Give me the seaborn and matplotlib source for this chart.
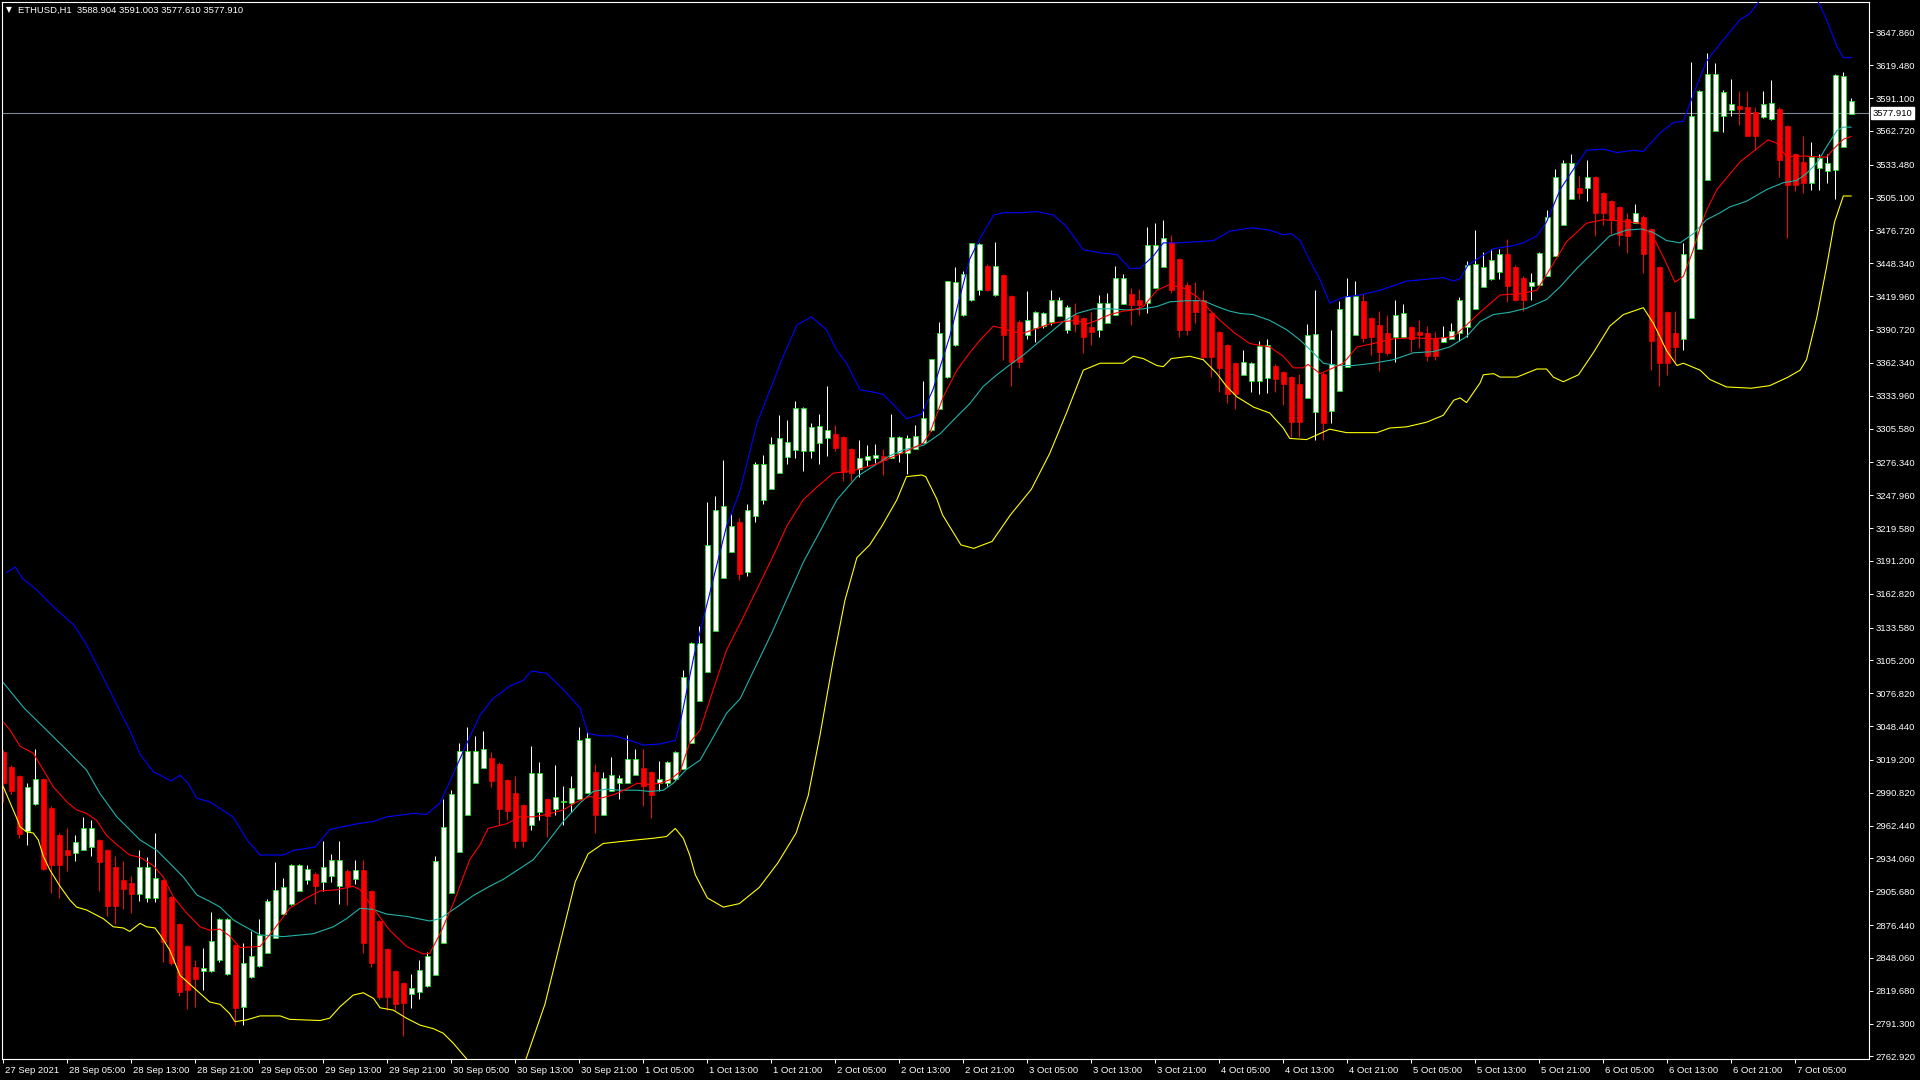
import numpy as np
import pandas as pd
import seaborn as sns
import matplotlib.pyplot as plt
import matplotlib.transforms as mtransforms

# candle data, one value per H1 bar (index 0 = 27 Sep 21:00)
opens = [
    3026, 3013, 3005, 2958, 2981, 3003, 2978, 2954, 2941, 2939, 2941, 2944, 2950, 2941, 2927, 2915,
    2913, 2903, 2900, 2900, 2915, 2901, 2877, 2858, 2840, 2837, 2837, 2846, 2834, 2859, 2806, 2832,
    2841, 2852, 2865, 2886, 2895, 2906, 2915, 2921, 2914, 2919, 2910, 2923, 2916, 2924, 2906, 2880,
    2856, 2837, 2826, 2817, 2819, 2824, 2833, 2861, 2904, 2940, 2972, 2999, 3012, 3021, 3016, 3002,
    2991, 2980, 2963, 2974, 2985, 2977, 2983, 2982, 2985, 2991, 3009, 2972, 2992, 2999, 2999, 3006,
    3012, 3009, 2999, 2999, 3003, 3011, 3034, 3070, 3095, 3131, 3176, 3199, 3225, 3182, 3230, 3244,
    3253, 3267, 3281, 3287, 3286, 3286, 3293, 3297, 3301, 3298, 3288, 3271, 3278, 3280, 3282, 3280,
    3284, 3284, 3288, 3293, 3304, 3322, 3350, 3378, 3404, 3417, 3425, 3446, 3421, 3438, 3420, 3398,
    3386, 3392, 3394, 3398, 3403, 3391, 3404, 3401, 3393, 3391, 3397, 3404, 3413, 3422, 3417, 3414,
    3427, 3445, 3467, 3452, 3430, 3417, 3417, 3405, 3389, 3378, 3362, 3352, 3347, 3347, 3349, 3360,
    3354, 3350, 3344, 3332, 3320, 3353, 3321, 3338, 3359, 3386, 3416, 3401, 3395, 3388, 3385, 3385,
    3393, 3389, 3388, 3384, 3380, 3383, 3388, 3393, 3409, 3428, 3435, 3441, 3456, 3445, 3436, 3429,
    3430, 3437, 3455, 3481, 3504, 3513, 3513, 3523, 3509, 3502, 3497, 3487, 3483, 3488, 3478, 3445,
    3406, 3388, 3383, 3401, 3461, 3520, 3563, 3576, 3581, 3584, 3583, 3579, 3575, 3573, 3582, 3567,
    3543, 3536, 3518, 3531, 3528, 3529, 3549, 3577.61,
]
highs = [
    3028, 3015, 3006, 2999, 3029, 3004, 2979, 2956, 2960, 2954, 2970, 2967, 2951, 2942, 2936, 2932,
    2919, 2941, 2935, 2956, 2916, 2902, 2878, 2859, 2846, 2857, 2888, 2883, 2883, 2860, 2861, 2871,
    2882, 2899, 2931, 2917, 2929, 2929, 2928, 2922, 2949, 2938, 2949, 2925, 2933, 2933, 2907, 2881,
    2857, 2838, 2827, 2834, 2846, 2853, 2936, 2985, 2993, 3034, 3048, 3040, 3044, 3026, 3017, 3003,
    3005, 2981, 3031, 3017, 2986, 3015, 2997, 3005, 3048, 3044, 3016, 3009, 3022, 3006, 3041, 3029,
    3029, 3010, 3018, 3018, 3027, 3097, 3121, 3135, 3242, 3247, 3278, 3232, 3228, 3240, 3277, 3283,
    3298, 3317, 3313, 3329, 3324, 3310, 3318, 3342, 3309, 3299, 3289, 3296, 3291, 3292, 3288, 3318,
    3299, 3300, 3309, 3347, 3366, 3398, 3433, 3445, 3442, 3466, 3466, 3448, 3467, 3439, 3421, 3399,
    3424, 3407, 3406, 3425, 3419, 3412, 3414, 3402, 3406, 3421, 3423, 3446, 3439, 3427, 3426, 3480,
    3483, 3486, 3473, 3453, 3432, 3432, 3425, 3406, 3390, 3379, 3363, 3373, 3363, 3381, 3383, 3361,
    3355, 3351, 3353, 3396, 3425, 3354, 3391, 3416, 3436, 3433, 3422, 3402, 3407, 3404, 3417, 3413,
    3394, 3399, 3394, 3389, 3394, 3397, 3419, 3450, 3477, 3458, 3461, 3461, 3469, 3447, 3437, 3440,
    3458, 3494, 3530, 3538, 3543, 3524, 3538, 3524, 3510, 3503, 3498, 3492, 3500, 3490, 3479, 3446,
    3407, 3407, 3466, 3622, 3598, 3630, 3621, 3598, 3608, 3597, 3597, 3583, 3597, 3607, 3583, 3568,
    3544, 3558, 3553, 3543, 3543, 3612, 3614, 3591.003,
]
lows = [
    2983, 2990, 2952, 2946, 2980, 2924, 2904, 2900, 2923, 2932, 2941, 2936, 2906, 2884, 2877, 2890,
    2887, 2897, 2896, 2896, 2845, 2842, 2815, 2804, 2806, 2820, 2836, 2845, 2833, 2790, 2790, 2831,
    2840, 2852, 2865, 2886, 2894, 2906, 2912, 2895, 2906, 2914, 2895, 2894, 2912, 2852, 2840, 2813,
    2803, 2803, 2781, 2805, 2813, 2823, 2833, 2861, 2904, 2940, 2972, 2999, 3012, 2996, 2963, 2967,
    2943, 2944, 2959, 2967, 2953, 2972, 2963, 2974, 2985, 2991, 2956, 2972, 2992, 2985, 2999, 3006,
    2979, 2969, 2992, 2997, 3002, 3011, 3034, 3070, 3095, 3131, 3176, 3199, 3175, 3178, 3225, 3240,
    3253, 3267, 3275, 3280, 3269, 3280, 3275, 3282, 3286, 3260, 3260, 3264, 3273, 3276, 3265, 3280,
    3277, 3266, 3288, 3293, 3303, 3322, 3349, 3377, 3403, 3416, 3421, 3424, 3420, 3365, 3342, 3358,
    3383, 3380, 3392, 3395, 3403, 3388, 3389, 3371, 3378, 3385, 3397, 3404, 3413, 3395, 3404, 3405,
    3427, 3445, 3423, 3385, 3386, 3397, 3366, 3350, 3337, 3328, 3322, 3352, 3337, 3335, 3336, 3337,
    3326, 3298, 3298, 3332, 3296, 3296, 3310, 3338, 3359, 3386, 3380, 3369, 3355, 3369, 3363, 3385,
    3372, 3375, 3364, 3365, 3380, 3383, 3381, 3385, 3409, 3428, 3434, 3435, 3415, 3416, 3407, 3417,
    3430, 3437, 3455, 3481, 3504, 3504, 3502, 3472, 3481, 3474, 3463, 3457, 3483, 3440, 3356, 3342,
    3352, 3363, 3373, 3401, 3461, 3520, 3563, 3562, 3576, 3568, 3558, 3546, 3574, 3572, 3523, 3470,
    3511, 3509, 3512, 3512, 3518, 3504, 3549, 3577.61,
]
closes = [
    2999, 2992, 2955, 2996, 3003, 2925, 2928, 2928, 2937, 2948, 2960, 2960, 2931, 2893, 2893, 2908,
    2903, 2927, 2927, 2917, 2862, 2844, 2819, 2820, 2830, 2839, 2863, 2882, 2882, 2805, 2844, 2850,
    2868, 2897, 2907, 2909, 2928, 2928, 2925, 2910, 2927, 2933, 2933, 2910, 2924, 2861, 2844, 2814,
    2814, 2808, 2809, 2822, 2838, 2850, 2932, 2961, 2990, 3027, 3027, 3027, 3029, 3001, 2977, 2975,
    2949, 2949, 3008, 3008, 2971, 2987, 2984, 2995, 3036, 3038, 2972, 3004, 3006, 3004, 3020, 3020,
    2997, 2989, 3003, 3017, 3026, 3091, 3120, 3120, 3205, 3235, 3239, 3221, 3180, 3235, 3275, 3275,
    3292, 3297, 3294, 3323, 3323, 3307, 3308, 3304, 3289, 3268, 3267, 3280, 3282, 3283, 3278, 3298,
    3298, 3297, 3299, 3315, 3366, 3388, 3433, 3432, 3439, 3466, 3465, 3425, 3446, 3386, 3363, 3363,
    3399, 3406, 3405, 3417, 3417, 3411, 3396, 3385, 3389, 3414, 3414, 3436, 3436, 3412, 3412, 3464,
    3464, 3470, 3425, 3391, 3391, 3406, 3367, 3367, 3358, 3335, 3335, 3363, 3362, 3377, 3378, 3348,
    3344, 3311, 3311, 3386, 3387, 3310, 3361, 3409, 3420, 3420, 3384, 3385, 3372, 3371, 3404, 3405,
    3383, 3386, 3368, 3368, 3385, 3390, 3417, 3447, 3448, 3445, 3451, 3456, 3429, 3417, 3417, 3432,
    3457, 3488, 3523, 3535, 3535, 3509, 3523, 3492, 3492, 3486, 3473, 3472, 3492, 3456, 3381, 3362,
    3362, 3376, 3456, 3576, 3597, 3612, 3612, 3596, 3586, 3582, 3558, 3558, 3586, 3587, 3538, 3516,
    3516, 3518, 3540, 3539, 3535, 3611, 3610, 3588.904,
]

# indicator lines (bar index, price)
upper_x = [0.4, 1.5, 2.4, 4.2, 6.5, 8.8, 10.3, 12.6, 14.9, 15.8, 17.1, 18.75, 21, 22.1, 23.1, 24.2,
           25.8, 28.7, 30.6, 32.1, 35, 36.3, 39, 40.8, 42.1, 44.2, 46.3, 47.9, 51.3, 52.9, 54.6,
           56.3, 58.3, 59.6, 61.2, 63.3, 65, 66, 67.9, 70, 72.1, 73.1, 74.6, 76.3, 77.9, 80, 82.1,
           84, 84.6, 86.3, 88.3, 90.4, 92.1, 94.2, 96.3, 97.5, 99.2, 101, 102.9, 104.2, 105.4,
           107.1, 108.8, 110, 111.7, 112.9, 114.8, 116.2, 118.3, 120.8, 122.1, 123.8, 125, 127.1,
           129.2, 131.3, 132.9, 135, 137.5, 139.2, 140.8, 142.1, 143.8, 145, 146.7, 149.2, 151.3,
           153.3, 156, 158.3, 160, 161, 162.1, 163.3, 164.6, 165.8, 167.5, 169.6, 172.1, 173.8,
           175.4, 177.1, 180, 181.3, 182.1, 183.1, 186.3, 188.3, 190, 191.7, 192.9, 194.6, 196.3,
           197.9, 200, 201.7, 203.8, 205, 207.1, 208.8, 210, 211.3, 212.9, 214.6, 217.1, 218.3,
           219.4, 222, 225, 226.9, 227.9, 229.2, 230, 231]
upper_y = [3181, 3186, 3176, 3166, 3150, 3136, 3120, 3089, 3057, 3045, 3024, 3009, 3001, 3006, 2999,
           2986, 2983, 2970, 2949, 2937, 2937, 2941, 2944, 2959, 2961, 2964, 2966, 2970, 2973,
           2972, 2982, 3008, 3039, 3058, 3072, 3083, 3088, 3096, 3094, 3080, 3064, 3042, 3040,
           3040, 3037, 3032, 3033, 3036, 3051, 3108, 3163, 3221, 3252, 3310, 3347, 3368, 3395,
           3402, 3391, 3373, 3362, 3339, 3337, 3335, 3323, 3314, 3318, 3339, 3385, 3452, 3470,
           3490, 3492, 3492, 3493, 3490, 3480, 3460, 3457, 3456, 3444, 3444, 3455, 3466, 3466,
           3467, 3468, 3476, 3479, 3477, 3473, 3474, 3468, 3451, 3434, 3414, 3419, 3421, 3425,
           3429, 3433, 3434, 3436, 3433, 3435, 3447, 3461, 3463, 3466, 3472, 3484, 3512, 3530,
           3546, 3547, 3544, 3546, 3545, 3561, 3570, 3571, 3595, 3623, 3638, 3659, 3664, 3674,
           3695, 3692, 3674, 3659, 3636, 3626, 3626]

lower_x = [0, 1.67, 2.09, 2.92, 3.75, 4.38, 5, 5.84, 7.09, 8.34, 9.17, 10.42, 11.67, 12.5, 13.75,
           15, 15.8, 17.1, 17.9, 18.96, 19.6, 20.8, 22.1, 22.9, 24.6, 25.8, 27.1, 28.3, 28.96,
           30.4, 32.1, 34.6, 35.8, 37.9, 39.6, 40.8, 42.1, 43.75, 45, 46.3, 47.1, 48.75, 50.4,
           52.1, 53.75, 55, 56.3, 57.9, 61.5, 65.3, 67.7, 70, 71.5, 73.1, 75, 78.3, 81.25, 82.9,
           84, 85, 85.8, 86.5, 88, 90, 92, 94.5, 96.8, 99.1, 100.6, 102.1, 103.7, 105.2, 106.7,
           108.3, 109.8, 111.7, 112.9, 114.8, 115.3, 116.7, 117.4, 119.7, 121.3, 123.6, 125.9,
           128.5, 130.8, 132.9, 135, 137.1, 140, 141.25, 142.5, 144.2, 145, 146, 148.3, 150,
           151.7, 152.9, 154.2, 156.3, 158.3, 160, 160.8, 162.9, 164.2, 165.8, 167.9, 171.7,
           173.3, 175.4, 177.9, 180, 181.3, 182.1, 182.9, 184.6, 185, 186.3, 187.1, 189.2, 191.7,
           192.9, 193.75, 195, 196.9, 198.75, 200.8, 202.5, 205, 206.3, 207.9, 209.2, 210, 212.1,
           213.3, 215.4, 218.5, 220.8, 223.1, 224.6, 225.4, 226.7, 227.9, 228.9, 230, 231]
lower_y = [2996, 2969, 2961.5, 2957, 2956, 2950, 2936, 2924, 2910, 2898, 2892, 2889.5, 2885, 2882,
           2875, 2874, 2871, 2878, 2875, 2874, 2868, 2855, 2833, 2828, 2817.5, 2810, 2808, 2800,
           2793, 2794.5, 2798, 2798, 2795, 2794.5, 2794, 2796, 2806, 2816, 2818, 2813, 2805, 2803,
           2796, 2790, 2787, 2783, 2774, 2761, 2735, 2760, 2808, 2872, 2914, 2938, 2947, 2949.5,
           2951.5, 2953, 2960, 2951.5, 2937, 2920, 2900, 2892, 2895, 2909, 2930, 2956, 2988, 3041,
           3104, 3157, 3194, 3205, 3221, 3244, 3264, 3265.4, 3264, 3244.5, 3231, 3205, 3202, 3208,
           3231, 3253, 3284, 3319, 3356, 3362, 3362, 3368, 3366, 3360, 3359, 3366, 3368, 3365,
           3353, 3342, 3333, 3324, 3319, 3306, 3297, 3296, 3300, 3305, 3302, 3302, 3306, 3307,
           3311, 3317, 3330, 3332, 3328, 3345, 3352, 3353, 3350, 3350, 3357, 3357, 3350, 3346,
           3352, 3371, 3394, 3404, 3410, 3396, 3373, 3360, 3362, 3356, 3348, 3341.5, 3340.4,
           3342.6, 3350, 3356, 3365, 3402, 3445, 3484, 3506.5, 3506.5]

fast_x = [0, 0.84, 2.1, 3.75, 5, 6.25, 7.92, 9.17, 10.4, 11.67, 12.9, 14.2, 15.8, 17.1, 18.75, 20,
          21.25, 22.9, 24.6, 25.8, 27.1, 28.3, 29.6, 32.1, 33.75, 35.8, 37.9, 39.6, 41.7, 43.75,
          44.6, 46.25, 48.3, 50.4, 52.5, 53.3, 54.6, 56.25, 58.3, 59.6, 60.6, 62.9, 64.6, 66.25,
          67.9, 70, 71.7, 73.3, 74.6, 76.25, 77.9, 79.2, 80.8, 82.1, 83.3, 84.6, 85.8, 87.1,
          88.75, 90.4, 92.1, 96, 98, 100, 101.7, 103.75, 105, 106.7, 109.2, 110.8, 112.9, 115,
          115.8, 117.5, 119.2, 120.8, 122.1, 123.75, 125, 126.25, 127.5, 129.2, 130.8, 132.5,
          134.2, 135.4, 136.7, 138.3, 140, 141.25, 142.5, 144.2, 145.8, 147.5, 149.2, 150.8,
          152.1, 153.75, 155.8, 158.3, 160, 161.25, 162.5, 163.1, 164.6, 166.25, 167.5, 169.2,
          171.25, 173.75, 176.25, 178.75, 181.25, 182.9, 184.6, 187.1, 189.6, 191.7, 193.75,
          195.4, 197.9, 200, 202.1, 204.6, 206.25, 207.9, 208.96, 210, 211.25, 212.1, 212.9,
          214.2, 217.1, 218.75, 220.6, 221.7, 222.9, 225.1, 227.9, 228.9, 230, 231]
fast_y = [3052, 3045, 3031, 3025, 3010.5, 2996, 2983, 2976, 2973, 2967, 2954, 2946, 2937, 2935,
          2928, 2918, 2901, 2887, 2875, 2872, 2873, 2867, 2857, 2858, 2872, 2891, 2900, 2906,
          2907, 2910, 2907, 2891, 2872, 2858, 2851.5, 2852, 2869, 2895, 2933, 2946, 2960, 2964,
          2970, 2970, 2972, 2976, 2983, 2987.5, 2986, 2989, 2994, 2999, 2998, 2999, 3002, 3009,
          3034, 3045, 3080, 3114, 3137, 3192, 3222, 3244, 3255, 3267, 3268, 3270, 3275, 3280,
          3286, 3293, 3301.5, 3333, 3356, 3371, 3382, 3394, 3392, 3389, 3388, 3392, 3396, 3398,
          3399, 3396, 3399, 3404, 3407, 3408, 3411, 3425, 3430, 3427, 3419.5, 3408, 3399, 3389,
          3379, 3376, 3368, 3358, 3358, 3361, 3353, 3358, 3362, 3376, 3379, 3383, 3384, 3383,
          3385, 3395, 3406, 3421, 3422, 3425, 3448, 3467, 3483, 3486, 3485, 3483, 3471, 3448,
          3432, 3437, 3460, 3479, 3494, 3512, 3536, 3545, 3555, 3552, 3540.5, 3541, 3540, 3548,
          3555.5, 3558]

slow_x = [0, 2.6, 5.4, 7.9, 10.4, 12.1, 14.2, 17.1, 19.2, 20.8, 22.5, 24.2, 25.8, 27.1, 28.75,
          29.6, 32.1, 35, 38.75, 41.25, 42.9, 44.6, 46.25, 47.9, 50.4, 53.3, 54.6, 56.7, 58.75,
          60.8, 62.5, 64.5, 66.25, 67.9, 70, 72.1, 73.75, 75.4, 77.1, 79.2, 80.8, 82.5, 83.75,
          85.4, 87.1, 88.75, 90.4, 92.1, 96, 100, 104.2, 106.7, 108.75, 110.8, 112.5, 115, 117.1,
          119.2, 120.8, 122.5, 124.2, 125.8, 127.5, 129.2, 130.8, 132.5, 134.2, 136.25, 138.3,
          140.4, 142.5, 144.2, 145.8, 147.9, 150, 151.7, 153.3, 154.6, 156.25, 158.3, 160.4,
          162.1, 163.75, 165, 166.7, 168.75, 171.25, 173.75, 176.25, 178.75, 180.8, 182.9, 184.6,
          186.25, 188.3, 190.4, 192.9, 194.6, 196.7, 198.75, 200.8, 202.9, 204.8, 206.25, 207.9,
          209.6, 211.25, 212.9, 214.6, 215.8, 217.9, 220.4, 222.5, 224.2, 225.4, 226.7, 227.9,
          229.2, 230, 231]
slow_y = [3086, 3064, 3045, 3028, 3010.5, 2990, 2970, 2950, 2941, 2930, 2918, 2902.5, 2897, 2892,
          2881, 2877.5, 2868, 2866.5, 2869, 2875, 2882, 2891, 2890, 2886, 2884, 2880, 2882, 2892,
          2902, 2910, 2916, 2925, 2933, 2947, 2966, 2982, 2992, 2994, 2993, 2993, 2992, 2993,
          2999, 3011, 3019, 3039, 3059.5, 3072, 3128, 3190, 3244, 3264, 3273, 3282, 3287, 3291,
          3301, 3316, 3327, 3342, 3352, 3360.5, 3369, 3379, 3388, 3398, 3405, 3409, 3409, 3408,
          3409, 3411, 3415, 3416, 3416, 3411, 3407, 3405, 3404, 3399, 3391, 3382, 3371, 3362,
          3360, 3360, 3362, 3365, 3371, 3372, 3376, 3385, 3398, 3404, 3406, 3409.5, 3417, 3428,
          3444, 3458, 3472, 3477, 3478, 3475, 3468, 3466, 3474, 3486, 3492, 3497, 3502, 3512,
          3518, 3520, 3526, 3535, 3549, 3563, 3566, 3566]

# axis labels
price_ticks = [3647.860, 3619.480, 3591.100, 3562.720, 3533.480, 3505.100, 3476.720, 3448.340,
               3419.960, 3390.720, 3362.340, 3333.960, 3305.580, 3276.340, 3247.960, 3219.580,
               3191.200, 3162.820, 3133.580, 3105.200, 3076.820, 3048.440, 3019.200, 2990.820,
               2962.440, 2934.060, 2905.680, 2876.440, 2848.060, 2819.680, 2791.300, 2762.920]
time_labels = ["27 Sep 2021", "28 Sep 05:00", "28 Sep 13:00", "28 Sep 21:00", "29 Sep 05:00",
               "29 Sep 13:00", "29 Sep 21:00", "30 Sep 05:00", "30 Sep 13:00", "30 Sep 21:00",
               "1 Oct 05:00", "1 Oct 13:00", "1 Oct 21:00", "2 Oct 05:00", "2 Oct 13:00",
               "2 Oct 21:00", "3 Oct 05:00", "3 Oct 13:00", "3 Oct 21:00", "4 Oct 05:00",
               "4 Oct 13:00", "4 Oct 21:00", "5 Oct 05:00", "5 Oct 13:00", "5 Oct 21:00",
               "6 Oct 05:00", "6 Oct 13:00", "6 Oct 21:00", "7 Oct 05:00"]
last_price = 3577.910
header = "ETHUSD,H1  3588.904 3591.003 3577.610 3577.910"

df = pd.DataFrame({'open': opens, 'high': highs, 'low': lows, 'close': closes})
df['bar'] = np.arange(len(df))
df['bull'] = df['close'] >= df['open']

sns.set_theme(style='dark', rc={'axes.facecolor': 'black', 'figure.facecolor': 'black',
                                'axes.edgecolor': 'white', 'axes.grid': False})
plt.rcParams['font.family'] = ['Liberation Sans', 'DejaVu Sans']

fig = plt.figure(figsize=(19.2, 10.8), dpi=100)
ax = fig.add_axes([2 / 1920, 21 / 1080, 1867 / 1920, 1057 / 1080])
ax.set_facecolor('black')

# current price line
ax.axhline(last_price, color='#7b8794', lw=0.8, zorder=1)

# wicks
wick_colors = np.where(df['bull'], 'white', '#ff0000')
ax.vlines(df['bar'], df['low'], df['high'], colors=wick_colors, lw=0.75, zorder=2)

# bodies
body_bottom = df[['open', 'close']].min(axis=1)
body_height = (df['close'] - df['open']).abs().clip(lower=0.9)
bull = df[df['bull']]
bear = df[~df['bull']]
ax.bar(bull['bar'], body_height[df['bull']], bottom=body_bottom[df['bull']], width=0.66,
       color='white', edgecolor='#00ff00', linewidth=0.45, zorder=2.5)
ax.bar(bear['bar'], body_height[~df['bull']], bottom=body_bottom[~df['bull']], width=0.66,
       color='#ff0000', edgecolor='#ff0000', linewidth=0.45, zorder=2.5)

# indicators
line_kw = dict(ax=ax, lw=0.8, sort=False, estimator=None, zorder=3)
sns.lineplot(x=upper_x, y=upper_y, color='#0000ff', **line_kw)
sns.lineplot(x=lower_x, y=lower_y, color='#ffff00', **line_kw)
sns.lineplot(x=slow_x, y=slow_y, color='#20b2aa', **line_kw)
sns.lineplot(x=fast_x, y=fast_y, color='#ff0000', **line_kw)

ax.set_xlim(-0.16, 233.21)
ax.set_ylim(2760.75, 3674.13)
ax.set_xlabel('')
ax.set_ylabel('')

for side in ['left', 'right', 'top', 'bottom']:
    ax.spines[side].set_color('white')
    ax.spines[side].set_linewidth(0.8)

ax.yaxis.tick_right()
ax.set_yticks(price_ticks)
ax.set_yticklabels([f"{p:.3f}" for p in price_ticks])
ax.tick_params(axis='y', which='both', direction='out', length=3, width=0.7, colors='white',
               labelsize=6.8, pad=2, right=True, left=False, labelright=True, labelleft=False)

ax.set_xticks(np.arange(len(time_labels)) * 8)
ax.set_xticklabels(time_labels)
ax.tick_params(axis='x', which='both', direction='out', length=3, width=0.7, colors='white',
               labelsize=6.8, pad=2, bottom=True)
shift = mtransforms.ScaledTranslation(2 / 100, 0, fig.dpi_scale_trans)
for lab in ax.get_xticklabels():
    lab.set_horizontalalignment('left')
    lab.set_transform(lab.get_transform() + shift)

# current price tag on the price scale
tag_tr = mtransforms.blended_transform_factory(ax.transAxes, ax.transData)
ax.text(1.0018, last_price, f"{last_price:.3f}", transform=tag_tr, ha='left', va='center',
        fontsize=6.8, color='black', clip_on=False, zorder=5,
        bbox=dict(boxstyle='square,pad=0.15', fc='white', ec='white'))

# chart header
fig.text(6 / 1920, 1 - 10 / 1080, '\u25bc', color='white', fontsize=5.5, va='center', ha='left',
         family=['DejaVu Sans'])
fig.text(18 / 1920, 1 - 10 / 1080, header, color='white', fontsize=6.8, va='center', ha='left')

fig.savefig('out.png', dpi=100, facecolor='black')
